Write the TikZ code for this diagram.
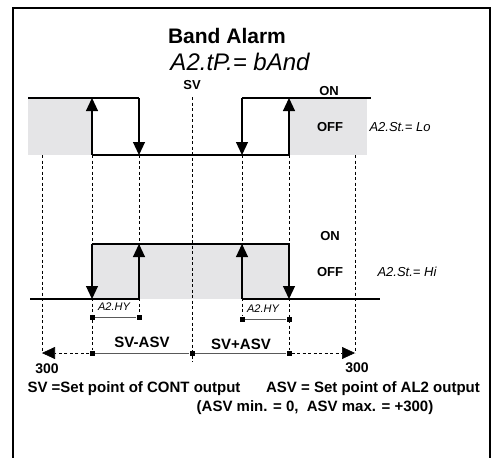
\documentclass[tikz,border=0pt]{standalone}
\usepackage{fontspec}
\setmainfont{Liberation Sans}
\usetikzlibrary{arrows.meta}

\definecolor{offgray}{RGB}{229,229,231}
\tikzset{
  frame/.style={line width=1.4pt},
  wave/.style={line width=1.2pt},
  pulse/.style={line width=1.2pt, -{Triangle[length=13pt,width=12pt]}},
  guide/.style={line width=0.6pt, dash pattern=on 3pt off 2.5pt},
  span/.style={line width=1pt, black!65},
  lbl/.style={font=\bfseries\fontsize{15}{17}\selectfont},
  seg/.style={font=\itshape\fontsize{13}{15}\selectfont},
}

\begin{document}
\begin{tikzpicture}[x=1pt,y=-1pt]
 \useasboundingbox (0,0) rectangle (493,458);
 \draw[frame] (13,458) -- (13,8) -- (490,8) -- (490,458);

 % OFF areas
 \fill[offgray] (28,98) rectangle (92,155);
 \fill[offgray] (289,98) rectangle (367,155);
 \fill[offgray] (92,244) rectangle (289,299);

 % upper chart points
 \coordinate (ut0) at (28,98);  \coordinate (ut1) at (92,98);  \coordinate (ut2) at (139,98);
 \coordinate (ut3) at (242,98); \coordinate (ut4) at (289,98); \coordinate (ut5) at (371,98);
 \coordinate (ub1) at (92,155); \coordinate (ub2) at (139,155);
 \coordinate (ub3) at (242,155); \coordinate (ub4) at (289,155);
 % lower chart points
 \coordinate (lt1) at (92,244); \coordinate (lt2) at (139,244);
 \coordinate (lt3) at (242,244); \coordinate (lt4) at (289,244);
 \coordinate (lb0) at (30,299); \coordinate (lb1) at (92,299); \coordinate (lb2) at (139,299);
 \coordinate (lb3) at (242,299); \coordinate (lb4) at (289,299); \coordinate (lb5) at (380,299);
 % guide ends
 \coordinate (ga) at (42,155);  \coordinate (gb) at (355,155);
 \coordinate (ax0) at (42,353); \coordinate (ax1) at (355,353);
 \coordinate (sv0) at (192,97); \coordinate (sv1) at (192,362);

 \begin{scope}[every node/.style={rectangle, fill, inner sep=0pt, minimum size=5pt}]
   \node (h1) at (92,317) {};
   \node (h2) at (139,317) {};
   \node (h3) at (242,319) {};
   \node (h4) at (289,319) {};
   \node (m1) at (92,353) {};
   \node (m2) at (192,353) {};
   \node (m3) at (289,353) {};
 \end{scope}

 % dashed guides
 \draw[guide] (sv0) -- (sv1);
 \draw[guide] (ga) -- (ax0);
 \draw[guide] (gb) -- (ax1);
 \draw[guide] (ub1) -- (m1);
 \draw[guide] (ub2) -- (h2);
 \draw[guide] (ub3) -- (h3);
 \draw[guide] (ub4) -- (m3);

 % A2.St = Lo
 \draw[wave] (ut0) -- (ut2);
 \draw[wave] (ut3) -- (ut5);
 \draw[wave] (ub1) -- (ub4);
 \draw[pulse] (ub1) -- (ut1);
 \draw[pulse] (ut2) -- (ub2);
 \draw[pulse] (ut3) -- (ub3);
 \draw[pulse] (ub4) -- (ut4);

 % A2.St = Hi
 \draw[wave] (lb0) -- (lb2);
 \draw[wave] (lb3) -- (lb5);
 \draw[wave] (lt1) -- (lt4);
 \draw[pulse] (lt1) -- (lb1);
 \draw[pulse] (lb2) -- (lt2);
 \draw[pulse] (lb3) -- (lt3);
 \draw[pulse] (lt4) -- (lb4);

 % hysteresis and band
 \draw[span] (h1) -- (h2);
 \draw[span] (h3) -- (h4);
 \draw[span] (m1) -- (m2) -- (m3);
 \draw[guide, -{Triangle[length=13pt,width=12pt]}] (m1) -- (ax0);
 \draw[guide, -{Triangle[length=13pt,width=12pt]}] (m3) -- (ax1);

 % texts
 \node (title) [font=\bfseries\fontsize{21}{24}\selectfont] at (227,36) {Band Alarm};
 \node (type) [seg, font=\itshape\fontsize{24}{26}\selectfont] at (240,62) {A2.tP.= bAnd};
 \node (sv) [lbl, font=\bfseries\fontsize{13}{15}\selectfont] at (192,85) {SV};
 \node (on1) [lbl, font=\bfseries\fontsize{13}{15}\selectfont] at (329,91) {ON};
 \node (off1) [lbl, font=\bfseries\fontsize{13}{15}\selectfont] at (330,127) {OFF};
 \node (lo) [seg, anchor=west] at (366,127) {A2.St.= Lo};
 \node (on2) [lbl, font=\bfseries\fontsize{13}{15}\selectfont] at (330,236) {ON};
 \node (off2) [lbl, font=\bfseries\fontsize{13}{15}\selectfont] at (330,272) {OFF};
 \node (hi) [seg, anchor=west] at (374,272) {A2.St.= Hi};
 \node (hy1) [seg, font=\itshape\fontsize{11}{13}\selectfont] at (114,307) {A2.HY};
 \node (hy2) [seg, font=\itshape\fontsize{11}{13}\selectfont] at (263,309) {A2.HY};
 \node (minus) [lbl] at (142,342) {SV-ASV};
 \node (plus) [lbl] at (241,344) {SV+ASV};
 \node (lim1) [lbl, font=\bfseries\fontsize{14}{16}\selectfont] at (47,369) {300};
 \node (lim2) [lbl, font=\bfseries\fontsize{14}{16}\selectfont] at (357,368) {300};
 \node (note1) [lbl] at (134,389) {SV =Set point of CONT output};
 \node (note2) [lbl] at (373,389) {ASV = Set point of AL2 output};
 \node (note3) [lbl] at (315,408) {(ASV min. = 0,\ \ ASV max. = +300)};
\end{tikzpicture}
\end{document}
